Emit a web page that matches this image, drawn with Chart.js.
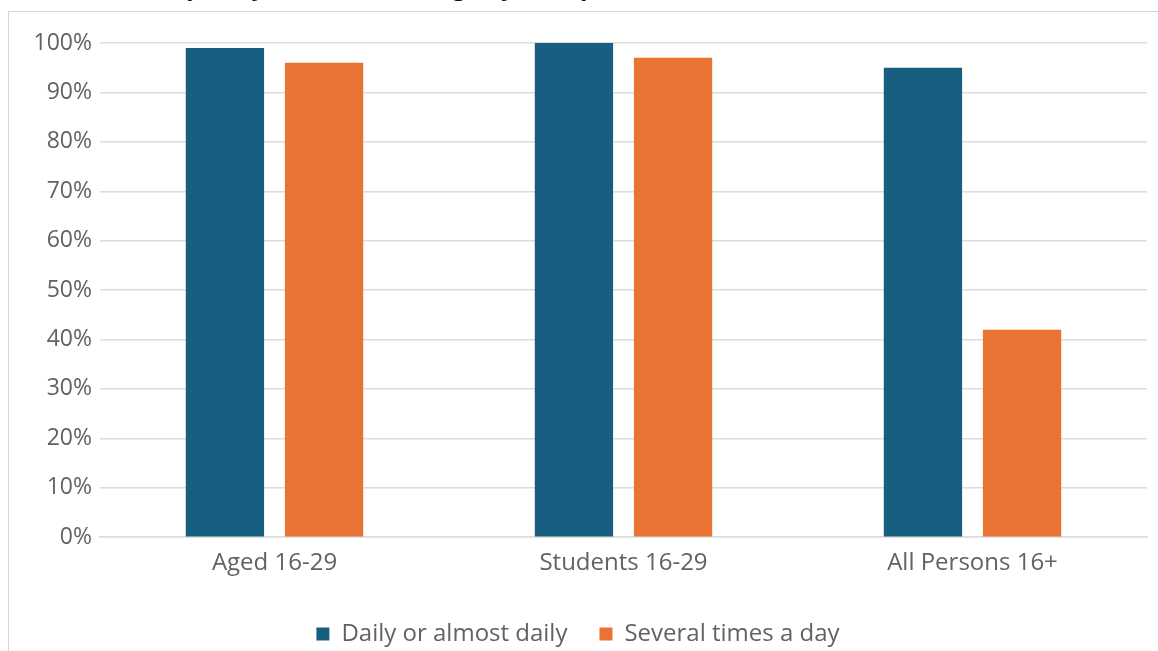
<!DOCTYPE html>
<html>
<head>
<meta charset="utf-8">
<script src="https://cdn.jsdelivr.net/npm/chart.js@4.4.1/dist/chart.umd.min.js"></script>
<style>
  html, body { margin: 0; padding: 0; background: #fff; overflow: hidden; }
  body { width: 1158px; height: 651px; position: relative; font-family: 'Open Sans', sans-serif; }
  .title {
    position: absolute; left: 140px; top: -31px;
    font-size: 24px; font-weight: 700; color: #111; white-space: nowrap;
  }
  .chart-box {
    position: absolute; left: 8px; top: 11px; width: 1170px; height: 680px;
    border: 1px solid #d6d6d6; background: #fff;
  }
  .chart-box canvas { position: absolute; left: 0; top: 0; }
</style>
</head>
<body>
<div class="title">Frequency of Internet Usage by Group</div>
<div class="chart-box"><canvas id="chart" width="1150" height="649"></canvas></div>
<script>
// ── Data ──
const groups = ['Aged 16-29', 'Students 16-29', 'All Persons 16+'];
const dailyOrAlmostDaily = [99, 100, 95];
const severalTimesADay = [96, 97, 42];
const yTicks = [0, 10, 20, 30, 40, 50, 60, 70, 80, 90, 100];

const BLUE = '#175e80';
const ORANGE = '#e97333';
const TEXT = '#626262';
const GRID = '#dcdcdc';

Chart.defaults.font.family = "'Open Sans', sans-serif";
Chart.defaults.color = TEXT;

const ctx = document.getElementById('chart').getContext('2d');
new Chart(ctx, {
  type: 'bar',
  data: {
    labels: groups,
    datasets: [{
      label: 'Daily or almost daily',
      data: dailyOrAlmostDaily,
      backgroundColor: BLUE,
      borderWidth: 0,
      barPercentage: 0.79,
      categoryPercentage: 0.568,
    }, {
      label: 'Several times a day',
      data: severalTimesADay,
      backgroundColor: ORANGE,
      borderWidth: 0,
      barPercentage: 0.79,
      categoryPercentage: 0.568,
    }],
  },
  options: {
    responsive: false,
    animation: false,
    layout: { padding: { top: 31, right: 12, bottom: 5, left: 0 } },
    plugins: {
      legend: {
        display: true,
        position: 'bottom',
        labels: {
          boxWidth: 13, boxHeight: 13, padding: 32,
          font: { size: 24 }, color: TEXT,
        },
      },
      tooltip: { enabled: false },
    },
    scales: {
      x: {
        grid: { display: false, drawTicks: false },
        border: { color: GRID, width: 1.5 },
        ticks: { font: { size: 24 }, color: TEXT, padding: 12, maxRotation: 0 },
      },
      y: {
        min: 0,
        max: 100,
        afterFit: (scale) => { scale.width = 91; },
        afterBuildTicks: (scale) => { scale.ticks = yTicks.map(v => ({ value: v })); },
        grid: { color: GRID, lineWidth: 1.5, drawTicks: false },
        border: { display: false },
        ticks: {
          font: { size: 23 }, color: TEXT, padding: 8,
          callback: (v) => v + '%',
        },
      },
    },
  },
});
</script>
</body>
</html>
